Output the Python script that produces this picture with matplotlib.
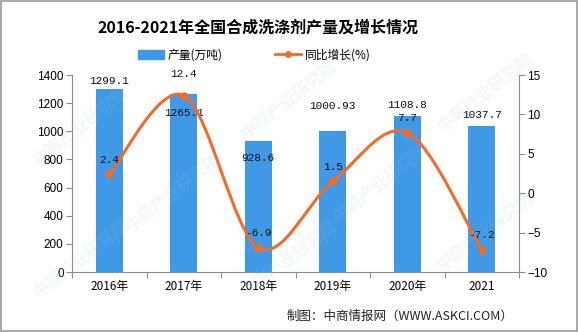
import matplotlib
matplotlib.use("Agg")
import matplotlib.pyplot as plt
from matplotlib.path import Path
from matplotlib.patches import PathPatch, Rectangle
from matplotlib.lines import Line2D
from matplotlib.ticker import FixedLocator, NullFormatter

plt.rcParams['font.family'] = ['Noto Sans CJK SC', 'DejaVu Sans']

years = ["2016年", "2017年", "2018年", "2019年", "2020年", "2021"]
output = [1299.1, 1265.1, 928.6, 1000.93, 1108.8, 1037.7]
output_labels = ["1299.1", "1265.1", "928.6", "1000.93", "1108.8", "1037.7"]
growth = [2.4, 12.4, -6.9, 1.5, 7.7, -7.2]
growth_labels = ["2.4", "12.4", "-6.9", "1.5", "7.7", "-7.2"]

BAR = '#3f99e6'
LINE = '#ef6c2a'
AXIS = '#8c8c8c'

# label offsets (points) relative to the bar top / line point
bar_offsets = [6, -14, -12, 18, 8, 8]
line_offsets = [7, 12, 7, 7, 7, 7]


def smooth_path(xs, ys):
    """Catmull-Rom style bezier path through the points."""
    pts = list(zip(xs, ys))
    ext = [pts[0]] + pts + [pts[-1]]
    verts = [pts[0]]
    codes = [Path.MOVETO]
    for i in range(1, len(ext) - 2):
        p0, p1, p2, p3 = ext[i - 1], ext[i], ext[i + 1], ext[i + 2]
        c1 = (p1[0] + (p2[0] - p0[0]) / 6, p1[1] + (p2[1] - p0[1]) / 6)
        c2 = (p2[0] - (p3[0] - p1[0]) / 6, p2[1] - (p3[1] - p1[1]) / 6)
        verts += [c1, c2, p2]
        codes += [Path.CURVE4] * 3
    return Path(verts, codes)


fig = plt.figure(figsize=(5.78, 3.32), dpi=100)
ax = fig.add_axes([0.1246, 0.1807, 0.7734, 0.5933])
ax2 = ax.twinx()

x = list(range(len(years)))
ax.bar(x, output, width=0.36, color=BAR, zorder=2)
ax.set_xlim(-0.5, len(years) - 0.5)
ax.set_ylim(0, 1400)
ax.set_yticks(range(0, 1401, 200))
ax2.set_ylim(-10, 15)
ax2.set_yticks(range(-10, 16, 5))

# category ticks sit between the bars, labels under the bars
ax.xaxis.set_major_locator(FixedLocator([i - 0.5 for i in range(len(years) + 1)]))
ax.xaxis.set_major_formatter(NullFormatter())
ax.set_xticks(x, minor=True)
ax.set_xticklabels(years, minor=True)
ax.tick_params(axis='x', which='minor', length=0, pad=6, labelsize=8.5)
ax.tick_params(axis='x', which='major', length=4, color=AXIS)
ax.tick_params(axis='y', length=4, color=AXIS, labelsize=8.5, pad=2)
ax2.tick_params(axis='y', length=4, color=AXIS, labelsize=8.5, pad=2)
for lab in ax.get_yticklabels() + ax2.get_yticklabels():
    lab.set_family(['Liberation Sans'])

for a in (ax, ax2):
    a.spines['top'].set_visible(False)
    for s in ('left', 'right', 'bottom'):
        a.spines[s].set_color(AXIS)
ax.spines['right'].set_visible(False)
ax2.spines['left'].set_visible(False)
ax2.spines['bottom'].set_visible(False)

ax2.add_patch(PathPatch(smooth_path(x, growth), facecolor='none',
                        edgecolor=LINE, lw=2.2, zorder=3))
ax2.plot(x, growth, 'o', color=LINE, ms=5, zorder=4)

num_font = dict(family=['Liberation Mono'], fontsize=8, color='#111111')
for i, v in enumerate(output):
    ax.annotate(output_labels[i], (i, v), xytext=(0, bar_offsets[i]),
                textcoords='offset points', ha='center', va='center',
                zorder=5, **num_font)
for i, v in enumerate(growth):
    ax2.annotate(growth_labels[i], (i, v), xytext=(0, line_offsets[i]),
                 textcoords='offset points', ha='center', va='bottom',
                 zorder=5, **num_font)

fig.text(0.447, 0.918, "2016-2021年全国合成洗涤剂产量及增长情况",
         ha='center', va='center', fontsize=11.5, fontweight='bold')

handles = [Rectangle((0, 0), 1, 1, color=BAR),
           Line2D([], [], color=LINE, lw=2, marker='o', ms=4)]
fig.legend(handles, ["产量(万吨)", "同比增长(%)"], loc='center',
           bbox_to_anchor=(0.44, 0.834), ncol=2, frameon=False,
           fontsize=8.5, handlelength=2.2, handleheight=0.7,
           columnspacing=4.5, handletextpad=0.3)

fig.text(0.888, 0.046, "制图：中商情报网（WWW.ASKCI.COM）",
         ha='right', va='center', fontsize=9, color='#222222')

# faint watermark
for wx, wy in [(0.14, 0.62), (0.5, 0.7), (0.84, 0.72), (0.3, 0.42),
               (0.66, 0.45), (0.14, 0.22), (0.5, 0.22), (0.84, 0.3)]:
    fig.text(wx, wy, "中商产业研究院", rotation=38, fontsize=12,
             color='#9fc3dc', alpha=0.14, ha='center', va='center',
             fontweight='bold', zorder=0)

fig.patches.append(Rectangle((0.001, 0.002), 0.997, 0.995,
                             transform=fig.transFigure, fill=False,
                             edgecolor='#999999', lw=1.2))

fig.savefig("out.png", dpi=100)
